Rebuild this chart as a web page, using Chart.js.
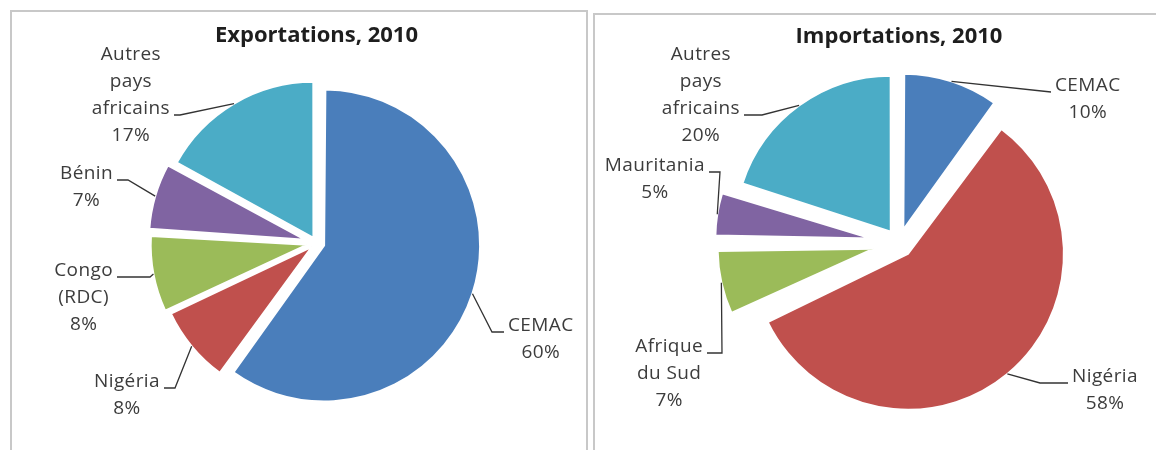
<!DOCTYPE html>
<html lang="fr">
<head>
<meta charset="utf-8">
<title>Exportations et importations, 2010</title>
<script src="https://cdn.jsdelivr.net/npm/chart.js@4.4.1/dist/chart.umd.min.js"></script>
<style>
  html, body { margin: 0; padding: 0; background: #fff; }
  body { position: relative; width: 1156px; height: 450px; overflow: hidden; }
  .box { position: absolute; border: 2px solid #c8c8c8; box-sizing: border-box; background: #fff; }
  #boxExp { left: 10px; top: 10px; width: 578px; height: 470px; }
  #boxImp { left: 593px; top: 13px; width: 600px; height: 470px; }
  .wrap { position: absolute; left: 0; top: 0; height: 440px; }
  #boxExp .wrap { width: 574px; }
  #boxImp .wrap { width: 561px; }
</style>
</head>
<body>
<div class="box" id="boxExp"><div class="wrap"><canvas id="exportChart"></canvas></div></div>
<div class="box" id="boxImp"><div class="wrap"><canvas id="importChart"></canvas></div></div>

<script>
// =================================== data ===================================
const exportCategories = ["CEMAC", "Nigéria", "Congo (RDC)", "Bénin", "Autres pays africains"];
const exportShares = [60, 8, 8, 7, 17];

const importCategories = ["CEMAC", "Nigéria", "Afrique du Sud", "Mauritania", "Autres pays africains"];
const importShares = [10, 58, 7, 5, 20];

// how the outside labels are broken into lines (percentage is added below)
const exportLabelLines = [["CEMAC"], ["Nigéria"], ["Congo", "(RDC)"], ["Bénin"], ["Autres", "pays", "africains"]];
const importLabelLines = [["CEMAC"], ["Nigéria"], ["Afrique", "du Sud"], ["Mauritania"], ["Autres", "pays", "africains"]];

// =================================== style ===================================
const sliceColors = ["#4a7ebb", "#c0504d", "#9bbb59", "#8064a2", "#4bacc6"];
const PIE_RADIUS = 156;
const LABEL_LINE_HEIGHT = 27;

// how far each slice is pulled out, in px
const exportExplode = [8, 6, 10, 12, 6];
const importExplode = [14, 14, 26, 28, 14];

// end of each leader line, relative to the pie centre
const exportLabelLayout = [
  { dx: 187.5, dy: 89, side: "right", row: 0, elbow: 12 },
  { dx: -152.5, dy: 145, side: "left", row: 0, elbow: 11 },
  { dx: -199.5, dy: 34, side: "left", row: 0, elbow: 33 },
  { dx: -199.5, dy: -63, side: "left", row: 0, elbow: 11 },
  { dx: -142.5, dy: -128, side: "left", row: 2, elbow: 6 },
];
const importLabelLayout = [
  { dx: 152, dy: -151, side: "right", row: 0, elbow: 0 },
  { dx: 169, dy: 140, side: "right", row: 0, elbow: 28 },
  { dx: -192, dy: 110, side: "left", row: 0, elbow: 15 },
  { dx: -190, dy: -71, side: "left", row: 0, elbow: 11 },
  { dx: -155, dy: -128, side: "left", row: 2, elbow: 18 },
];

Chart.defaults.font.family = "'Open Sans', Lato, sans-serif";

// draws "Excel style" labels outside the pie with a leader line
const outsideLabels = {
  id: "outsideLabels",
  afterDatasetUpdate(chart, args) {
    // chart.js enlarges an exploded arc by offset/4 * (1 - sin(angle)), undo it so all slices keep one radius
    args.meta.data.forEach(function (arc) {
      const shift = (arc.options.offset || 0) / 4;
      const fix = 1 - Math.sin(Math.min(Math.PI, arc.circumference));
      arc.outerRadius = PIE_RADIUS - shift * fix;
    });
  },
  afterDatasetsDraw(chart, args, opts) {
    const ctx = chart.ctx;
    const arcs = chart.getDatasetMeta(0).data;
    const values = chart.data.datasets[0].data;

    ctx.save();
    ctx.font = "19px 'Open Sans'";
    ctx.letterSpacing = "0.4px";
    ctx.fillStyle = "#3c3c3c";
    ctx.strokeStyle = "#333";
    ctx.lineWidth = 1.3;
    ctx.textAlign = "center";
    ctx.textBaseline = "middle";

    arcs.forEach(function (arc, i) {
      const lay = opts.layout[i];
      const lines = opts.lines[i].concat(values[i] + "%");
      const mid = (arc.startAngle + arc.endAngle) / 2;
      const shift = (arc.options.offset || 0) / 4;
      const ex = arc.x + Math.cos(mid) * (shift + PIE_RADIUS);
      const ey = arc.y + Math.sin(mid) * (shift + PIE_RADIUS);
      const ax = arc.x + lay.dx;
      const ay = arc.y + lay.dy;
      const bx = lay.side === "right" ? ax - lay.elbow : ax + lay.elbow;

      ctx.beginPath();
      ctx.moveTo(ex, ey);
      ctx.lineTo(bx, ay);
      ctx.lineTo(ax, ay);
      ctx.stroke();

      const w = Math.max.apply(null, lines.map(function (t) { return ctx.measureText(t).width; }));
      const tx = lay.side === "right" ? ax + 4 + w / 2 : ax - 4 - w / 2;
      lines.forEach(function (t, k) {
        ctx.fillText(t, tx, ay - 6 + (k - lay.row) * LABEL_LINE_HEIGHT);
      });
    });
    ctx.restore();
  },
};

function renderPie(canvasId, title, categories, shares, explode, lines, layout, padding, titleTop) {
  const ctx = document.getElementById(canvasId).getContext("2d");

  new Chart(ctx, {
    type: "pie",
    data: {
      labels: categories,
      datasets: [
        {
          data: shares,
          backgroundColor: sliceColors,
          borderColor: "#ffffff",
          borderWidth: 2,
          offset: explode.map(function (d) { return d * 4; }),
          radius: PIE_RADIUS,
        },
      ],
    },
    options: {
      responsive: true,
      maintainAspectRatio: false,
      animation: false,
      events: [],
      layout: { padding: padding },
      plugins: {
        legend: { display: false },
        tooltip: { enabled: false },
        title: {
          display: true,
          text: title,
          color: "#1e1e1e",
          font: { size: 22, weight: "bold" },
          padding: { top: titleTop, bottom: 0 },
        },
        outsideLabels: { lines: lines, layout: layout },
      },
    },
    plugins: [outsideLabels],
  });
}

renderPie("exportChart", "Exportations, 2010", exportCategories, exportShares, exportExplode,
  exportLabelLines, exportLabelLayout, { left: 35, right: 0, top: 0, bottom: 15.2 }, 10.8);
renderPie("importChart", "Importations, 2010", importCategories, importShares, importExplode,
  importLabelLines, importLabelLayout, { left: 47, right: 0, top: 0, bottom: 19.2 }, 8.8);
</script>
</body>
</html>
